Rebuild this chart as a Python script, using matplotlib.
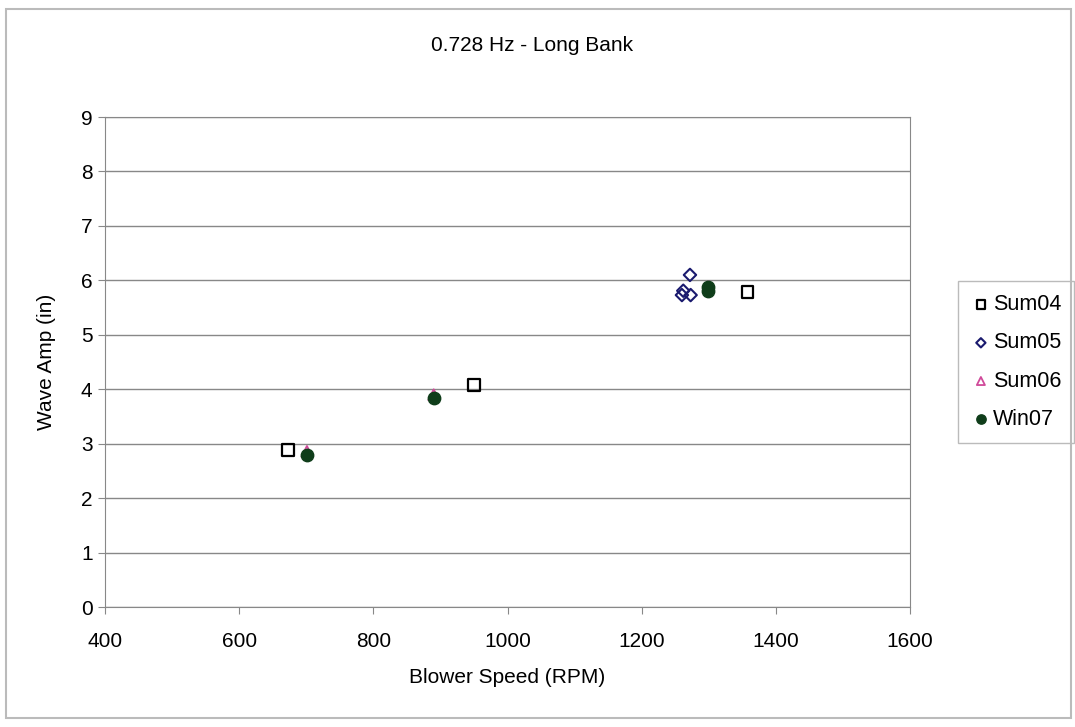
import matplotlib.pyplot as plt
import matplotlib.patches as mpatches

plt.rcParams['font.family'] = ['Liberation Sans', 'DejaVu Sans']

# data
sum04_x = [673, 950, 1358]
sum04_y = [2.89, 4.08, 5.79]
sum05_x = [1272, 1262, 1260, 1273]
sum05_y = [6.10, 5.81, 5.73, 5.73]
sum06_x = [701, 890, 1300]
sum06_y = [2.86, 3.90, 5.88]
win07_x = [701, 890, 1299, 1299]
win07_y = [2.80, 3.84, 5.87, 5.80]

fig = plt.figure(figsize=(10.75, 7.27), dpi=100)
ax = fig.add_axes([0.0977, 0.165, 0.7488, 0.674])

ax.scatter(sum04_x, sum04_y, marker='s', s=70, facecolors='none',
           edgecolors='black', linewidths=1.6, label='Sum04', zorder=3)
ax.scatter(sum05_x, sum05_y, marker='D', s=40, facecolors='none',
           edgecolors='#1a1a6e', linewidths=1.5, label='Sum05', zorder=4)
ax.scatter(sum06_x, sum06_y, marker='^', s=60, facecolors='none',
           edgecolors='#d04a9a', linewidths=1.3, label='Sum06', zorder=3)
ax.scatter(win07_x, win07_y, marker='o', s=80, color='#0f3d1a',
           label='Win07', zorder=5)

ax.set_xlim(400, 1600)
ax.set_ylim(0, 9)
ax.set_xticks(range(400, 1601, 200))
ax.set_yticks(range(0, 10))
ax.grid(axis='y', color='#888888', linewidth=1)
ax.set_axisbelow(True)
for s in ax.spines.values():
    s.set_color('#888888')
ax.tick_params(labelsize=15, colors='black', length=5, color='#888888')
ax.tick_params(axis='x', pad=13)
ax.tick_params(axis='y', pad=4)

ax.set_xlabel('Blower Speed (RPM)', fontsize=15, labelpad=12)
ax.set_ylabel('Wave Amp (in)', fontsize=15, labelpad=18)
fig.text(0.495, 0.937, '0.728 Hz - Long Bank', ha='center', va='center', fontsize=15)

leg = ax.legend(loc='center left', bbox_to_anchor=(1.06, 0.5), fontsize=15.5,
                frameon=True, fancybox=False, edgecolor='#aaaaaa',
                handletextpad=0.1, borderpad=0.6, labelspacing=0.8,
                markerscale=0.75, handlelength=0.9, borderaxespad=0)

fig.patches.append(mpatches.Rectangle((0.006, 0.012), 0.99, 0.975, transform=fig.transFigure,
                                      fill=False, edgecolor='#bbbbbb', linewidth=1.5))

fig.savefig('out.png', dpi=100)
